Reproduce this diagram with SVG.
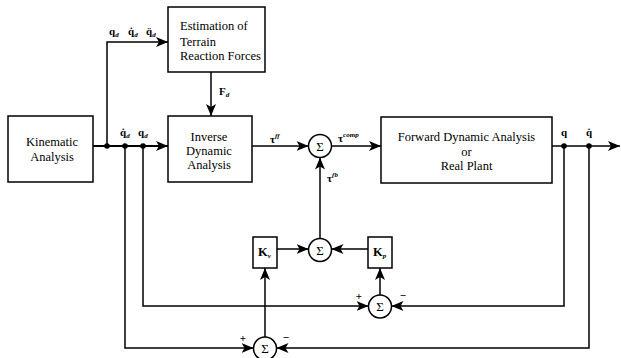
<svg xmlns="http://www.w3.org/2000/svg" width="621" height="358" viewBox="0 0 621 358" font-family="'Liberation Serif', 'DejaVu Serif', serif">
<defs>
<marker id="ar" viewBox="0 0 12 10" refX="12" refY="5" markerWidth="12" markerHeight="10" markerUnits="userSpaceOnUse" orient="auto">
<path d="M0,0 L12,5 L0,10 L3,5 Z" fill="#000"/>
</marker>
</defs>
<style>
.box{fill:#fff;stroke:#000;stroke-width:1.5}
.sum{fill:#fff;stroke:#000;stroke-width:1.5}
text{font-family:'Liberation Serif','DejaVu Serif',serif}
.t{font-size:12.5px;fill:#000}
.c{text-anchor:middle}
.l{font-size:11px;font-weight:bold;fill:#000}
.s{font-size:7px;font-style:italic}
.sg{font-size:13px;fill:#000;text-anchor:middle}
.w{fill:none;stroke:#000;stroke-width:1.5}
.m{fill:none;stroke:#000;stroke-width:2}
.d{fill:#000}
</style>
<g id="connectors">
<path class="m" d="M93,146 L168,146" marker-end="url(#ar)"/>
<path class="w" d="M107,146 L107,42 L168,42" marker-end="url(#ar)"/>
<path class="w" d="M211,72 L211,116" marker-end="url(#ar)"/>
<path class="w" d="M252,146 L308.5,146" marker-end="url(#ar)"/>
<path class="w" d="M331.5,146 L381,146" marker-end="url(#ar)"/>
<path class="w" d="M552,146 L620,146" marker-end="url(#ar)"/>
<path class="w" d="M320,239 L320,157.5" marker-end="url(#ar)"/>
<path class="w" d="M277,249 L308.5,249" marker-end="url(#ar)"/>
<path class="w" d="M368,249 L331.5,249" marker-end="url(#ar)"/>
<path class="w" d="M380,295 L380,268" marker-end="url(#ar)"/>
<path class="w" d="M265,337 L265,268" marker-end="url(#ar)"/>
<path class="w" d="M143,146 L143,306 L368.5,306" marker-end="url(#ar)"/>
<path class="w" d="M125,146 L125,348 L253.5,348" marker-end="url(#ar)"/>
<path class="w" d="M564,146 L564,306 L391.5,306" marker-end="url(#ar)"/>
<path class="w" d="M589,146 L589,348 L276.5,348" marker-end="url(#ar)"/>
<circle class="d" cx="107" cy="146" r="2.8"/>
<circle class="d" cx="125" cy="146" r="2.8"/>
<circle class="d" cx="143" cy="146" r="2.8"/>
<circle class="d" cx="564" cy="146" r="2.8"/>
<circle class="d" cx="589" cy="146" r="2.8"/>
<text class="l" x="109" y="35">q<tspan class="s" dy="2">d</tspan></text>
<text class="l" x="128" y="35">q̇<tspan class="s" dy="2">d</tspan></text>
<text class="l" x="146" y="35">q̈<tspan class="s" dy="2">d</tspan></text>
<text class="l" x="120" y="136">q̇<tspan class="s" dy="2">d</tspan></text>
<text class="l" x="138" y="136">q<tspan class="s" dy="2">d</tspan></text>
<text class="l" x="219" y="95">F<tspan class="s" dy="2">d</tspan></text>
<text class="l" x="270" y="143">τ<tspan class="s" dy="-5">ff</tspan></text>
<text class="l" x="338" y="142">τ<tspan class="s" dy="-5">comp</tspan></text>
<text class="l" x="327" y="182">τ<tspan class="s" dy="-5">fb</tspan></text>
<text class="l c" x="564" y="136">q</text>
<text class="l c" x="589" y="136">q̇</text>
<text class="l c" x="359" y="300">+</text>
<text class="l c" x="403" y="299">−</text>
<text class="l c" x="243" y="342">+</text>
<text class="l c" x="286" y="341">−</text>
</g>
<g id="kinematic">
<rect class="box" x="8" y="116" width="85" height="66"/>
<text class="t c" x="52" y="146">Kinematic</text>
<text class="t c" x="52" y="161">Analysis</text>
</g>
<g id="estimation">
<rect class="box" x="168" y="7" width="97" height="65"/>
<text class="t" x="180" y="30">Estimation of</text>
<text class="t" x="180" y="46">Terrain</text>
<text class="t" x="180" y="60">Reaction Forces</text>
</g>
<g id="inverse">
<rect class="box" x="168" y="116" width="84" height="66"/>
<text class="t c" x="209" y="141">Inverse</text>
<text class="t c" x="209" y="155">Dynamic</text>
<text class="t c" x="209" y="169">Analysis</text>
</g>
<g id="forward">
<rect class="box" x="381" y="117" width="171" height="66"/>
<text class="t c" x="466.5" y="141">Forward Dynamic Analysis</text>
<text class="t c" x="466.5" y="156">or</text>
<text class="t c" x="466.5" y="170">Real Plant</text>
</g>
<g id="sum1">
<circle class="sum" cx="320" cy="146" r="11.5"/>
<text class="sg" x="320" y="150.5">Σ</text>
</g>
<g id="sum2">
<circle class="sum" cx="320" cy="250" r="11.5"/>
<text class="sg" x="320" y="254.5">Σ</text>
</g>
<g id="sum3">
<circle class="sum" cx="380" cy="306.5" r="11.5"/>
<text class="sg" x="380" y="311">Σ</text>
</g>
<g id="sum4">
<circle class="sum" cx="265" cy="348.5" r="11.5"/>
<text class="sg" x="265" y="353">Σ</text>
</g>
<g id="kv">
<rect class="box" x="253" y="237" width="24" height="31"/>
<text class="t" x="258" y="256" font-weight="bold" font-size="12">K<tspan class="s" dy="2">v</tspan></text>
</g>
<g id="kp">
<rect class="box" x="368" y="237" width="24" height="31"/>
<text class="t" x="373" y="256" font-weight="bold" font-size="12">K<tspan class="s" dy="2">p</tspan></text>
</g>
</svg>
